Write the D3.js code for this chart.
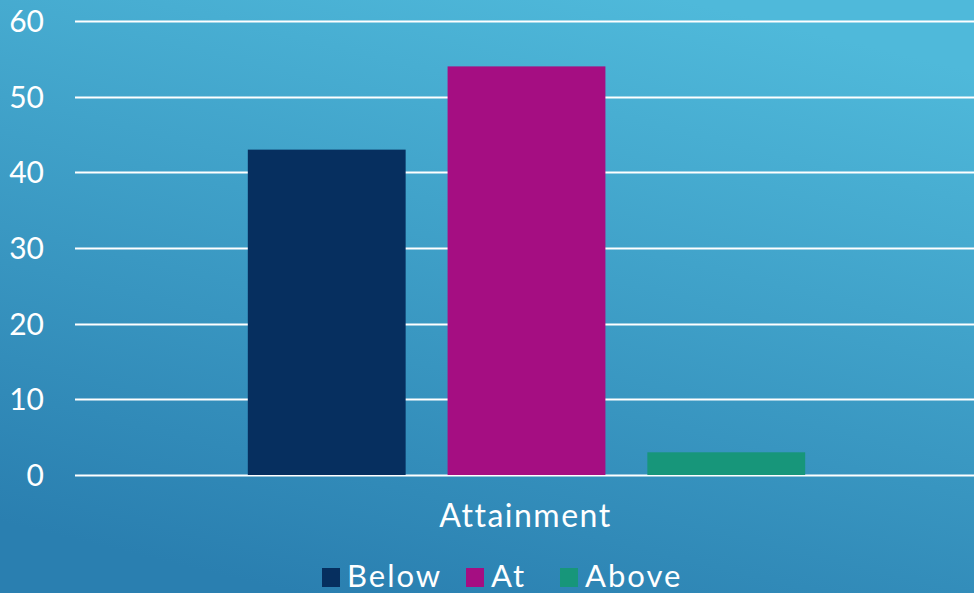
<!DOCTYPE html>
<html>
<head>
<meta charset="utf-8">
<script src="https://cdn.jsdelivr.net/npm/d3@7"></script>
<style>
  html, body { margin: 0; padding: 0; overflow: hidden; }
  svg { display: block; font-family: "Century Gothic", "Lato", "DejaVu Sans", sans-serif; }
</style>
</head>
<body>
<svg id="chart" width="974" height="593"></svg>
<script>
const categories = ['Attainment'];
const seriesNames = ['Below', 'At', 'Above'];
const seriesValues = [43, 54, 3];
const seriesColors = ['#062f5f', '#a50e82', '#17967a'];
const yTicks = [0, 10, 20, 30, 40, 50, 60];

const width = 974, height = 593;
const margin = { top: 21, right: 0, bottom: 118, left: 75 };

const svg = d3.select('#chart');

// background gradient
const defs = svg.append('defs');
const grad = defs.append('linearGradient')
  .attr('id', 'bg')
  .attr('x1', '70%').attr('y1', '0%')
  .attr('x2', '30%').attr('y2', '100%');
grad.append('stop').attr('offset', '0%').attr('stop-color', '#4fb9da');
grad.append('stop').attr('offset', '100%').attr('stop-color', '#2a7fb0');
svg.append('rect').attr('width', width).attr('height', height).attr('fill', 'url(#bg)');

const y = d3.scaleLinear()
  .domain([0, 60])
  .range([height - margin.bottom, margin.top]);

const x0 = d3.scaleBand()
  .domain(categories)
  .range([margin.left, width - margin.right]);

const x1 = d3.scaleBand()
  .domain(seriesNames)
  .range([3, x0.bandwidth() + 1])
  .paddingInner(0.21)
  .paddingOuter(0.85);

// gridlines
svg.append('g')
  .selectAll('line')
  .data(yTicks)
  .join('line')
  .attr('x1', margin.left)
  .attr('x2', width - margin.right)
  .attr('y1', d => Math.round(y(d)) + 0.5)
  .attr('y2', d => Math.round(y(d)) + 0.5)
  .attr('stroke', '#ffffff')
  .attr('stroke-width', 2);

// y labels
svg.append('g')
  .selectAll('text')
  .data(yTicks)
  .join('text')
  .attr('x', 44)
  .attr('y', d => y(d))
  .attr('dy', '0.37em')
  .attr('text-anchor', 'end')
  .attr('fill', '#ffffff')
  .style('font-size', '30px')
  .text(d => d);

// bars
const g = svg.append('g')
  .selectAll('g')
  .data(categories)
  .join('g')
  .attr('transform', d => `translate(${x0(d)},0)`);

g.selectAll('rect')
  .data(seriesNames.map((s, i) => ({ key: s, value: seriesValues[i], color: seriesColors[i] })))
  .join('rect')
  .attr('x', d => x1(d.key))
  .attr('y', d => y(d.value))
  .attr('width', x1.bandwidth())
  .attr('height', d => y(0) - y(d.value))
  .attr('fill', d => d.color);

// category label
g.append('text')
  .attr('x', x0.bandwidth() / 2 + 1)
  .attr('y', 527)
  .attr('text-anchor', 'middle')
  .attr('fill', '#ffffff')
  .style('font-size', '32px')
  .style('letter-spacing', '1.5px')
  .text(d => d);

// legend
const legendX = [322, 466, 560];
const legend = svg.append('g')
  .selectAll('g')
  .data(seriesNames)
  .join('g')
  .attr('transform', (d, i) => `translate(${legendX[i]},568)`);

legend.append('rect')
  .attr('width', 18)
  .attr('height', 19)
  .attr('fill', (d, i) => seriesColors[i]);

legend.append('text')
  .attr('x', 25)
  .attr('y', 19)
  .attr('fill', '#ffffff')
  .style('font-size', '31px')
  .style('letter-spacing', '2px')
  .text(d => d);
</script>
</body>
</html>
